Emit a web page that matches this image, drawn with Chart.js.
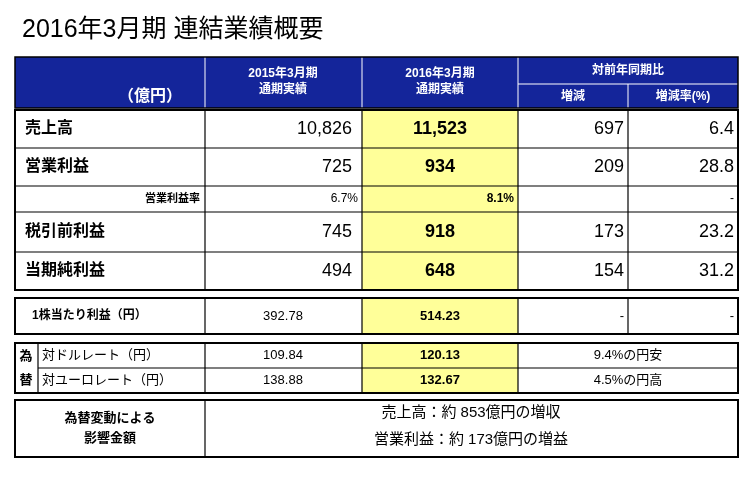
<!DOCTYPE html>
<html><head><meta charset="utf-8">
<script src="https://cdn.jsdelivr.net/npm/chart.js@4/dist/chart.umd.min.js"></script>
<style>html,body{margin:0;padding:0;background:#fff}</style>
</head><body>
<canvas id="c" width="750" height="484"></canvas>
<script>
const title = "2016年3月期 連結業績概要";
const headers = ["（億円）", "2015年3月期\n通期実績", "2016年3月期\n通期実績", "対前年同期比", "増減", "増減率(%)"];
const rowLabels = ["売上高", "営業利益", "営業利益率", "税引前利益", "当期純利益"];
const fy2015 = ["10,826", "725", "6.7%", "745", "494"];
const fy2016 = ["11,523", "934", "8.1%", "918", "648"];
const diffs = ["697", "209", "", "173", "154"];
const rates = ["6.4", "28.8", "-", "23.2", "31.2"];
const epsRow = ["1株当たり利益（円）", "392.78", "514.23", "-", "-"];
const fxLabels = ["対ドルレート（円）", "対ユーロレート（円）"];
const fx2015 = ["109.84", "138.88"];
const fx2016 = ["120.13", "132.67"];
const fxNote = ["9.4%の円安", "4.5%の円高"];
const impactLabel = ["為替変動による", "影響金額"];
const impactText = ["売上高：約 853億円の増収", "営業利益：約 173億円の増益"];

const F = '"Liberation Sans", "Noto Sans CJK JP", sans-serif';
const NAVY = '#14259a', YEL = '#ffff99';

const tablePlugin = {
  id: 'table',
  afterDraw(chart) {
    const ctx = chart.ctx, xs = chart.scales.x, ys = chart.scales.y;
    const X = v => xs.getPixelForValue(v), Y = v => ys.getPixelForValue(v);
    const rect = (x0, y0, x1, y1, fill, lw) => {
      ctx.beginPath(); ctx.rect(X(x0), Y(y0), X(x1) - X(x0), Y(y1) - Y(y0));
      if (fill) { ctx.fillStyle = fill; ctx.fill(); }
      if (lw) { ctx.lineWidth = lw; ctx.strokeStyle = '#000'; ctx.stroke(); }
    };
    const line = (x0, y0, x1, y1, lw, col) => {
      ctx.beginPath(); ctx.moveTo(X(x0), Y(y0)); ctx.lineTo(X(x1), Y(y1));
      ctx.lineWidth = lw || 1; ctx.strokeStyle = col || '#000'; ctx.stroke();
    };
    const text = (s, x, y, size, align, bold, col) => {
      ctx.font = (bold ? 'bold ' : '') + size + 'px ' + F;
      ctx.fillStyle = col || '#000'; ctx.textAlign = align || 'center'; ctx.textBaseline = 'middle';
      ctx.fillText(s, X(x), Y(y));
    };
    const cols = [15, 205, 362, 518, 628, 738];
    text(title, 22, 30, 25, 'left', false);
    rect(15, 57, 738, 108, NAVY, 0);
    [205, 362, 518].forEach(c => line(c, 57, c, 108, 1, '#fff'));
    line(628, 84, 628, 108, 1, '#fff');
    line(518, 84, 738, 84, 1, '#fff');
    rect(15, 57, 738, 108, null, 1.5);
    text(headers[0], 150, 97, 16, 'center', true, '#fff');
    headers[1].split('\n').forEach((s, i) => text(s, 283, 74 + i * 16, 12, 'center', true, '#fff'));
    headers[2].split('\n').forEach((s, i) => text(s, 440, 74 + i * 16, 12, 'center', true, '#fff'));
    text(headers[3], 628, 71, 12, 'center', true, '#fff');
    text(headers[4], 573, 97, 12, 'center', true, '#fff');
    text(headers[5], 683, 97, 12, 'center', true, '#fff');
    const rb = [110, 148, 186, 212, 252, 290];
    rect(362, 110, 518, 290, YEL, 0);
    for (let i = 0; i < 5; i++) {
      const y0 = rb[i], y1 = rb[i + 1], cy = (y0 + y1) / 2, small = i === 2;
      line(15, y1, 738, y1, 1.2);
      if (small) {
        text(rowLabels[i], 200, cy, 11, 'right', true);
        text(fy2015[i], 358, cy, 12, 'right');
        text(fy2016[i], 514, cy, 12, 'right', true);
        text(rates[i], 734, cy, 12, 'right');
      } else {
        text(rowLabels[i], 25, cy, 16, 'left', true);
        text(fy2015[i], 352, cy, 18, 'right');
        text(fy2016[i], 440, cy, 18, 'center', true);
        text(diffs[i], 624, cy, 18, 'right');
        text(rates[i], 734, cy, 18, 'right');
      }
    }
    cols.slice(1, 5).forEach(c => line(c, 110, c, 290, 1.2));
    rect(15, 110, 738, 290, null, 2);
    rect(362, 298, 518, 334, YEL, 0);
    cols.slice(1, 5).forEach(c => line(c, 298, c, 334, 1.2));
    rect(15, 298, 738, 334, null, 2);
    text(epsRow[0], 32, 316, 12, 'left', true);
    text(epsRow[1], 283, 316, 13, 'center');
    text(epsRow[2], 440, 316, 13, 'center', true);
    text(epsRow[3], 624, 316, 13, 'right');
    text(epsRow[4], 734, 316, 13, 'right');
    rect(362, 343, 518, 393, YEL, 0);
    line(38, 368, 738, 368, 1.2);
    [38, 205, 362, 518].forEach(c => line(c, 343, c, 393, 1.2));
    rect(15, 343, 738, 393, null, 2);
    text('為', 26, 356, 13, 'center', true);
    text('替', 26, 380, 13, 'center', true);
    for (let i = 0; i < 2; i++) {
      const cy = 355.5 + i * 25;
      text(fxLabels[i], 42, cy, 13, 'left');
      text(fx2015[i], 283, cy, 13, 'center');
      text(fx2016[i], 440, cy, 13, 'center', true);
      text(fxNote[i], 628, cy, 13, 'center');
    }
    line(205, 400, 205, 457, 1.2);
    rect(15, 400, 738, 457, null, 2);
    impactLabel.forEach((s, i) => text(s, 110, 418 + i * 20, 13, 'center', true));
    impactText.forEach((s, i) => text(s, 471, 413 + i * 27, 15, 'center'));
  }
};

new Chart(document.getElementById('c'), {
  type: 'scatter',
  data: { datasets: [{ data: [], pointRadius: 0 }] },
  options: {
    responsive: false, animation: false,
    layout: { padding: 0 },
    plugins: { legend: { display: false }, tooltip: { enabled: false } },
    scales: {
      x: { type: 'linear', min: 0, max: 750, display: false },
      y: { type: 'linear', min: 0, max: 484, reverse: true, display: false }
    }
  },
  plugins: [tablePlugin]
});
</script>
</body></html>
